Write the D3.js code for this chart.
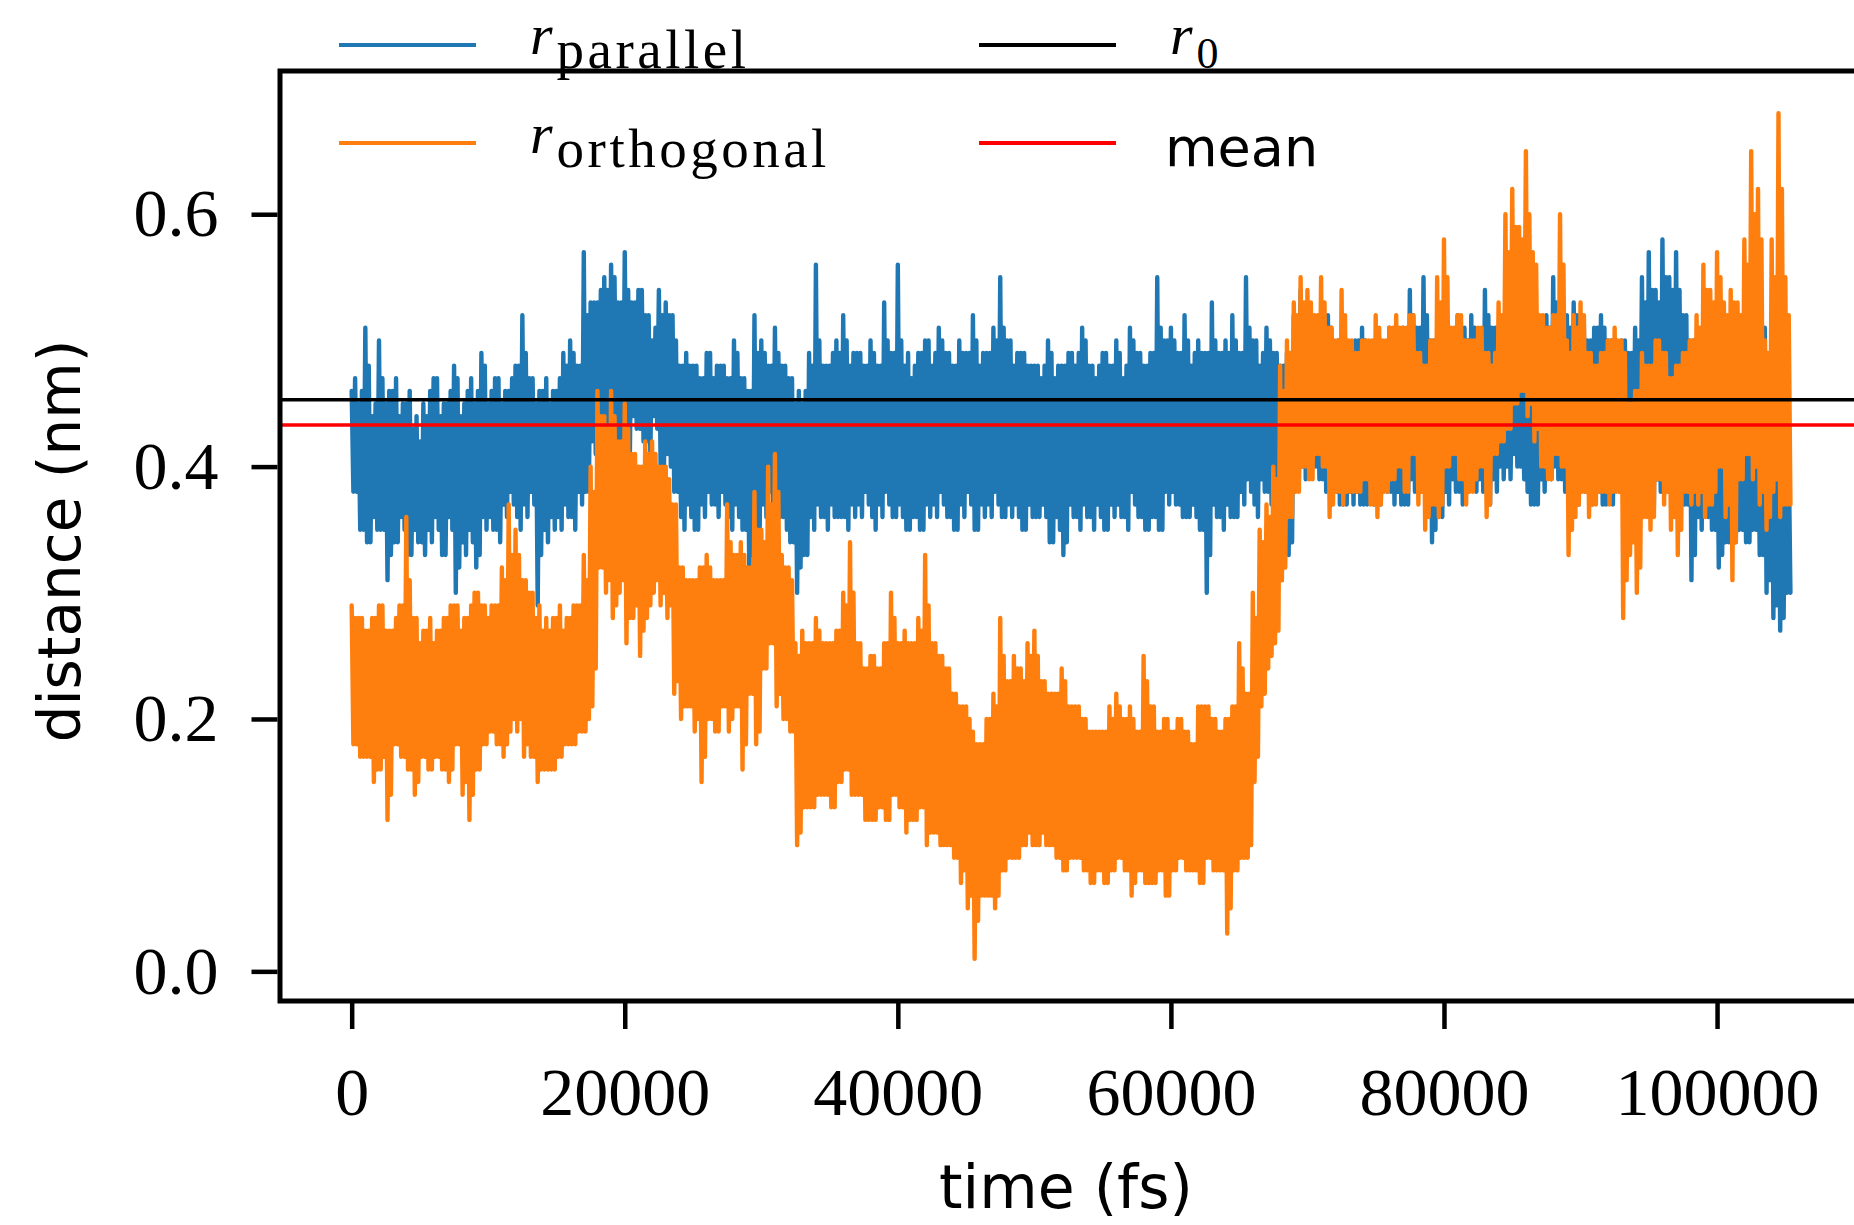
<!DOCTYPE html>
<html>
<head>
<meta charset="utf-8">
<script src="https://cdn.jsdelivr.net/npm/d3@7"></script>
<style>
  html, body { margin: 0; padding: 0; background: #fff; overflow: hidden; }
</style>
</head>
<body>
<div id="chart"></div>
<script>
// one bin = 500 fs; per bin the trace swings high, low, high again, low again
var binWidth = 500;

var parallelHigh = [
  .46,.45,.51,.44,.50,.45,.46,.44,.45,.43,
  .42,.44,.47,.44,.45,.48,.44,.46,.45,.49,
  .45,.47,.45,.46,.48,.52,.47,.45,.46,.45,
  .46,.49,.50,.48,.57,.53,.53,.55,.56,.53,
  .57,.53,.54,.52,.50,.54,.53,.52,.48,.49,
  .48,.47,.49,.47,.48,.47,.50,.47,.46,.52,
  .50,.48,.51,.48,.47,.45,.45,.49,.56,.48,
  .48,.50,.52,.48,.49,.48,.50,.48,.53,.49,
  .56,.48,.47,.49,.50,.48,.51,.49,.48,.50,
  .49,.52,.48,.49,.51,.55,.50,.48,.49,.48,
  .48,.47,.50,.47,.48,.49,.48,.51,.48,.47,
  .49,.48,.50,.47,.51,.49,.48,.49,.55,.50,
  .51,.49,.52,.48,.50,.49,.53,.49,.50,.52,
  .49,.55,.50,.48,.51,.49,.48,.49,.52,.54,
  .53,.51,.50,.52,.49,.50,.48,.50,.51,.49,
  .50,.49,.51,.49,.51,.54,.51,.55,.50,.49,
  .49,.50,.52,.51,.52,.50,.54,.51,.50,.49,
  .48,.47,.47,.46,.48,.52,.55,.51,.52,.53,
  .52,.50,.51,.52,.50,.49,.50,.49,.51,.55,
  .57,.54,.58,.55,.57,.52,.50,.49,.51,.49,
  .48,.47,.48,.46,.46,.47,.45,.51,.47,.42,
  .41
];
var parallelLow = [
  .38,.35,.34,.36,.35,.31,.34,.36,.33,.35,
  .34,.35,.36,.33,.36,.30,.34,.35,.32,.36,
  .36,.35,.37,.38,.36,.37,.38,.29,.35,.36,
  .36,.37,.36,.38,.38,.42,.43,.41,.43,.42,
  .42,.44,.43,.42,.44,.40,.41,.38,.36,.37,
  .35,.37,.38,.37,.38,.36,.37,.35,.31,.34,
  .37,.38,.37,.36,.34,.30,.33,.36,.37,.36,
  .37,.36,.36,.37,.37,.38,.36,.37,.38,.36,
  .37,.35,.36,.35,.37,.37,.38,.36,.35,.37,
  .38,.35,.37,.37,.38,.36,.37,.37,.35,.37,
  .36,.37,.34,.36,.33,.37,.36,.37,.36,.37,
  .35,.37,.37,.36,.38,.36,.35,.36,.35,.38,
  .38,.37,.36,.37,.35,.30,.37,.36,.37,.36,
  .38,.39,.37,.39,.38,.37,.31,.33,.40,.40,
  .41,.40,.39,.39,.38,.37,.38,.38,.37,.38,
  .37,.39,.38,.38,.37,.39,.40,.39,.34,.37,
  .38,.39,.38,.40,.39,.39,.38,.39,.40,.40,
  .41,.40,.38,.37,.39,.40,.40,.39,.38,.38,
  .39,.38,.39,.37,.38,.39,.38,.41,.40,.39,
  .38,.39,.40,.38,.39,.37,.31,.36,.37,.35,
  .32,.34,.35,.35,.34,.35,.33,.30,.28,.27,
  .30
];
var parallelHighMid = [
  .47,.46,.48,.45,.47,.46,.47,.45,.46,.44,
  .45,.46,.47,.45,.46,.47,.45,.47,.46,.48,
  .46,.47,.46,.47,.48,.49,.47,.46,.47,.46,
  .47,.48,.49,.48,.52,.53,.54,.54,.55,.53,
  .54,.53,.54,.52,.51,.52,.52,.50,.48,.48,
  .48,.47,.49,.48,.48,.47,.49,.47,.46,.49,
  .49,.48,.49,.48,.47,.46,.46,.48,.50,.48,
  .49,.49,.50,.49,.49,.48,.49,.48,.50,.49,
  .50,.49,.48,.49,.50,.49,.50,.49,.48,.49,
  .49,.50,.49,.49,.50,.51,.50,.49,.49,.48,
  .48,.48,.49,.48,.48,.49,.49,.50,.48,.48,
  .49,.48,.49,.48,.50,.49,.48,.49,.51,.50,
  .50,.49,.50,.49,.49,.49,.50,.49,.49,.50,
  .49,.51,.50,.49,.50,.49,.48,.49,.51,.52,
  .52,.51,.50,.51,.50,.50,.49,.50,.50,.49,
  .50,.49,.50,.49,.50,.52,.51,.52,.50,.49,
  .49,.50,.51,.50,.51,.50,.52,.51,.50,.49,
  .48,.48,.47,.47,.48,.51,.53,.51,.51,.52,
  .51,.50,.51,.51,.50,.49,.50,.49,.50,.53,
  .54,.53,.55,.54,.54,.52,.50,.49,.50,.49,
  .48,.47,.48,.46,.46,.47,.45,.48,.46,.42,
  .41
];
var parallelLowMid = [
  .38,.35,.34,.35,.35,.33,.34,.35,.33,.34,
  .33,.34,.35,.33,.35,.32,.33,.34,.33,.35,
  .35,.34,.36,.37,.35,.36,.37,.33,.34,.35,
  .35,.36,.35,.37,.38,.41,.42,.41,.42,.41,
  .41,.43,.42,.41,.43,.40,.40,.38,.35,.36,
  .35,.36,.37,.36,.37,.35,.36,.35,.33,.34,
  .36,.37,.36,.35,.34,.32,.33,.35,.36,.35,
  .36,.36,.35,.36,.36,.37,.35,.36,.37,.36,
  .36,.35,.36,.35,.36,.36,.37,.36,.35,.36,
  .37,.35,.36,.36,.37,.36,.36,.36,.35,.36,
  .36,.36,.34,.35,.34,.36,.35,.36,.35,.36,
  .35,.36,.36,.35,.37,.36,.35,.36,.35,.37,
  .37,.36,.36,.36,.35,.33,.36,.35,.36,.36,
  .37,.38,.36,.38,.37,.36,.33,.34,.39,.39,
  .40,.39,.38,.38,.37,.37,.37,.37,.37,.37,
  .37,.38,.37,.37,.37,.38,.39,.38,.35,.36,
  .37,.38,.37,.39,.38,.38,.37,.38,.39,.39,
  .40,.39,.37,.37,.38,.39,.39,.38,.37,.37,
  .38,.37,.38,.37,.37,.38,.37,.40,.39,.38,
  .37,.38,.39,.37,.38,.37,.33,.35,.36,.35,
  .33,.34,.34,.35,.34,.35,.33,.31,.29,.28,
  .30
];
var orthogonalHigh = [
  .29,.28,.27,.28,.29,.27,.27,.29,.36,.28,
  .26,.27,.26,.27,.28,.29,.27,.28,.30,.29,
  .28,.29,.32,.37,.35,.31,.30,.28,.27,.27,
  .28,.27,.28,.29,.33,.40,.46,.44,.46,.42,
  .45,.41,.40,.42,.42,.40,.40,.37,.32,.31,
  .31,.32,.33,.31,.31,.37,.33,.34,.32,.38,
  .35,.40,.41,.33,.32,.26,.27,.26,.28,.26,
  .26,.27,.30,.34,.26,.24,.25,.24,.26,.30,
  .26,.27,.26,.28,.33,.26,.25,.24,.22,.21,
  .21,.19,.18,.20,.22,.28,.23,.25,.24,.26,
  .27,.23,.22,.22,.24,.21,.21,.20,.19,.19,
  .19,.21,.22,.20,.21,.19,.25,.21,.19,.20,
  .19,.20,.19,.18,.21,.21,.20,.19,.20,.21,
  .26,.22,.30,.35,.37,.40,.48,.50,.53,.55,
  .54,.52,.55,.51,.50,.54,.50,.49,.50,.50,
  .52,.50,.51,.52,.51,.52,.49,.48,.50,.55,
  .58,.51,.52,.50,.50,.51,.49,.48,.53,.60,
  .62,.59,.65,.57,.52,.51,.52,.60,.50,.52,
  .53,.49,.48,.49,.50,.51,.50,.45,.46,.49,
  .48,.50,.49,.47,.48,.49,.50,.52,.56,.54,
  .57,.53,.54,.53,.58,.65,.62,.50,.58,.68,
  .55
];
var orthogonalLow = [
  .18,.17,.17,.15,.16,.12,.18,.17,.16,.14,
  .17,.16,.17,.16,.15,.18,.14,.12,.16,.18,
  .19,.18,.17,.19,.19,.17,.17,.15,.16,.16,
  .17,.18,.18,.19,.19,.21,.32,.30,.28,.30,
  .26,.28,.25,.28,.30,.29,.28,.22,.20,.21,
  .19,.15,.20,.19,.21,.19,.21,.16,.22,.18,
  .24,.26,.21,.20,.19,.10,.13,.13,.14,.14,
  .13,.15,.16,.14,.14,.12,.12,.13,.12,.14,
  .13,.11,.12,.13,.10,.11,.10,.10,.09,.07,
  .05,.01,.06,.06,.05,.08,.09,.09,.10,.11,
  .10,.11,.10,.09,.08,.09,.09,.08,.07,.08,
  .07,.08,.09,.08,.06,.08,.07,.07,.08,.06,
  .08,.09,.08,.08,.07,.09,.08,.08,.03,.08,
  .09,.09,.15,.21,.24,.26,.31,.36,.38,.40,
  .39,.41,.40,.36,.38,.37,.38,.38,.39,.37,
  .36,.38,.39,.40,.38,.41,.37,.35,.37,.36,
  .40,.41,.39,.37,.38,.40,.36,.41,.42,.43,
  .45,.46,.44,.42,.40,.39,.41,.40,.33,.36,
  .38,.36,.37,.38,.37,.38,.28,.33,.30,.36,
  .35,.39,.37,.35,.33,.38,.37,.37,.36,.37,
  .40,.36,.31,.39,.41,.39,.37,.35,.38,.36,
  .37
];
var orthogonalHighMid = [
  .28,.28,.27,.28,.29,.27,.28,.29,.31,.28,
  .27,.28,.27,.28,.29,.29,.28,.29,.30,.29,
  .29,.29,.31,.33,.33,.31,.30,.29,.28,.28,
  .29,.28,.29,.29,.31,.38,.44,.43,.44,.42,
  .43,.41,.40,.41,.41,.40,.39,.37,.32,.31,
  .31,.32,.32,.31,.31,.34,.33,.33,.32,.35,
  .34,.37,.38,.32,.31,.25,.26,.26,.27,.26,
  .26,.27,.29,.30,.26,.24,.25,.24,.26,.28,
  .26,.26,.26,.27,.29,.26,.25,.24,.22,.21,
  .20,.18,.18,.20,.21,.25,.23,.24,.23,.25,
  .25,.23,.22,.22,.23,.21,.21,.20,.19,.19,
  .19,.20,.21,.20,.20,.19,.23,.21,.19,.20,
  .19,.20,.19,.18,.21,.21,.20,.19,.20,.21,
  .24,.22,.28,.34,.36,.39,.46,.49,.52,.53,
  .53,.52,.53,.51,.50,.52,.50,.49,.50,.50,
  .51,.50,.51,.51,.51,.52,.49,.48,.50,.53,
  .55,.51,.52,.50,.50,.51,.49,.49,.52,.57,
  .59,.58,.60,.56,.52,.51,.52,.56,.49,.51,
  .52,.49,.48,.49,.50,.50,.49,.45,.46,.48,
  .48,.50,.49,.47,.48,.49,.50,.51,.54,.53,
  .55,.52,.53,.52,.56,.60,.58,.49,.55,.62,
  .52
];
var orthogonalLowMid = [
  .18,.17,.17,.16,.17,.14,.18,.17,.16,.15,
  .17,.16,.17,.16,.16,.18,.15,.14,.16,.18,
  .19,.18,.18,.20,.20,.18,.17,.16,.16,.16,
  .17,.18,.18,.19,.20,.24,.32,.31,.29,.31,
  .28,.29,.27,.29,.31,.30,.29,.23,.21,.21,
  .20,.17,.20,.19,.21,.20,.21,.18,.22,.19,
  .24,.26,.22,.20,.19,.11,.13,.13,.14,.14,
  .13,.15,.16,.14,.14,.12,.12,.13,.12,.14,
  .13,.12,.12,.13,.11,.11,.10,.10,.09,.08,
  .06,.04,.06,.06,.06,.08,.09,.09,.10,.10,
  .10,.10,.10,.09,.08,.09,.09,.08,.07,.08,
  .07,.08,.09,.08,.07,.08,.07,.07,.08,.06,
  .08,.09,.08,.08,.07,.09,.08,.08,.05,.08,
  .09,.10,.17,.22,.25,.27,.32,.36,.38,.40,
  .39,.41,.40,.37,.38,.38,.38,.38,.39,.37,
  .37,.38,.39,.40,.38,.41,.38,.36,.37,.37,
  .40,.41,.39,.38,.39,.40,.37,.41,.42,.43,
  .45,.46,.45,.43,.40,.39,.41,.40,.35,.37,
  .38,.37,.38,.38,.38,.38,.31,.34,.32,.36,
  .36,.39,.38,.36,.35,.38,.38,.38,.37,.38,
  .40,.37,.34,.39,.41,.40,.38,.36,.39,.37,
  .37
];

var r0 = 0.453;
var meanValue = 0.433;

var xTicks = [0, 20000, 40000, 60000, 80000, 100000];
var yTicks = [0.0, 0.2, 0.4, 0.6];

var svgWidth = 1854;
var svgHeight = 1225;
var plot = {left: 280, right: 1857, top: 71, bottom: 1001};

var svg = d3.select("#chart")
  .append("svg")
  .attr("width", svgWidth)
  .attr("height", svgHeight);

var x = d3.scaleLinear()
  .domain([-5250, 110250])
  .range([plot.left, plot.right]);
var y = d3.scaleLinear()
  .domain([-0.0235, 0.7135])
  .range([plot.bottom, plot.top]);

// build the trace: four samples per bin, a quarter bin apart
function trace(high, low, highMid, lowMid){
  var pts = [];
  var q = binWidth / 4;
  for(var i = 0; i < high.length; i++){
    var t = i * binWidth;
    pts.push([t, high[i]]);
    pts.push([t + q, low[i]]);
    pts.push([t + 2 * q, highMid[i]]);
    pts.push([t + 3 * q, lowMid[i]]);
  }
  return pts;
}

var line = d3.line()
  .x(function(d){ return x(d[0]); })
  .y(function(d){ return y(d[1]); });

var series = [
  {name: "parallel", color: "#1f77b4",
    pts: trace(parallelHigh, parallelLow, parallelHighMid, parallelLowMid)},
  {name: "orthogonal", color: "#ff7f0e",
    pts: trace(orthogonalHigh, orthogonalLow, orthogonalHighMid, orthogonalLowMid)}
];

svg.append("g")
  .selectAll("path")
  .data(series)
  .enter()
  .append("path")
  .attr("d", function(d){ return line(d.pts); })
  .attr("fill", "none")
  .attr("stroke", function(d){ return d.color; })
  .attr("stroke-width", 4.4)
  .attr("stroke-linejoin", "round")
  .attr("stroke-linecap", "round");

// reference lines
svg.selectAll(".hline")
  .data([{v: r0, c: "#000000"}, {v: meanValue, c: "#ff0000"}])
  .enter()
  .append("line")
  .attr("class", "hline")
  .attr("x1", plot.left)
  .attr("x2", plot.right)
  .attr("y1", function(d){ return y(d.v); })
  .attr("y2", function(d){ return y(d.v); })
  .attr("stroke", function(d){ return d.c; })
  .attr("stroke-width", 3.5);

// axes
var xAxis = svg.append("g")
  .attr("transform", "translate(0," + (plot.bottom + 2) + ")")
  .call(d3.axisBottom(x).tickValues(xTicks).tickFormat(d3.format("d"))
    .tickSize(26).tickPadding(38));
var yAxis = svg.append("g")
  .attr("transform", "translate(" + (plot.left - 2.5) + ",0)")
  .call(d3.axisLeft(y).tickValues(yTicks).tickFormat(d3.format(".1f"))
    .tickSize(26).tickPadding(33));

[xAxis, yAxis].forEach(function(a){
  a.select(".domain").remove();
  a.selectAll(".tick line").attr("stroke", "#000").attr("stroke-width", 4.5);
  a.selectAll(".tick text")
    .attr("fill", "#000")
    .style("font-family", "'Liberation Serif', 'DejaVu Serif', serif")
    .style("font-size", "68px");
});

// frame
svg.append("rect")
  .attr("x", plot.left)
  .attr("y", plot.top)
  .attr("width", plot.right - plot.left)
  .attr("height", plot.bottom - plot.top)
  .attr("fill", "none")
  .attr("stroke", "#000")
  .attr("stroke-width", 5);

svg.append("text")
  .attr("x", 1066)
  .attr("y", 1208)
  .attr("text-anchor", "middle")
  .style("font-family", "'DejaVu Sans', sans-serif")
  .style("font-size", "60px")
  .text("time (fs)");

svg.append("text")
  .attr("transform", "translate(80,541) rotate(-90)")
  .attr("text-anchor", "middle")
  .style("font-family", "'DejaVu Sans', sans-serif")
  .style("font-size", "58px")
  .text("distance (nm)");

// legend
var legendItems = [
  {color: "#1f77b4", lx: 339, ly: 45, tx: 530, base: 54, sub: "parallel"},
  {color: "#ff7f0e", lx: 339, ly: 143, tx: 530, base: 153, sub: "orthogonal"},
  {color: "#000000", lx: 979, ly: 45, tx: 1170, base: 54, sub: "0"},
  {color: "#ff0000", lx: 979, ly: 143, tx: 1165, base: 166, label: "mean"}
];

var legend = svg.selectAll(".legend")
  .data(legendItems)
  .enter()
  .append("g")
  .attr("class", "legend");

legend.append("line")
  .attr("x1", function(d){ return d.lx; })
  .attr("x2", function(d){ return d.lx + 137; })
  .attr("y1", function(d){ return d.ly; })
  .attr("y2", function(d){ return d.ly; })
  .attr("stroke", function(d){ return d.color; })
  .attr("stroke-width", 4.2);

var labels = legend.append("text")
  .attr("x", function(d){ return d.tx; })
  .attr("y", function(d){ return d.base; });

labels.filter(function(d){ return d.label; })
  .style("font-family", "'DejaVu Sans', sans-serif")
  .style("font-size", "54px")
  .text(function(d){ return d.label; });

var mathLabels = labels.filter(function(d){ return !d.label; })
  .style("font-family", "'Liberation Serif', 'DejaVu Serif', serif");
mathLabels.append("tspan")
  .style("font-style", "italic")
  .style("font-size", "58px")
  .text("r");
mathLabels.append("tspan")
  .attr("dx", 4)
  .attr("dy", 14)
  .style("font-size", function(d){ return d.sub === "0" ? "44px" : "55px"; })
  .style("letter-spacing", function(d){ return d.sub === "0" ? "0px" : "3.5px"; })
  .text(function(d){ return d.sub; });
</script>
</body>
</html>
